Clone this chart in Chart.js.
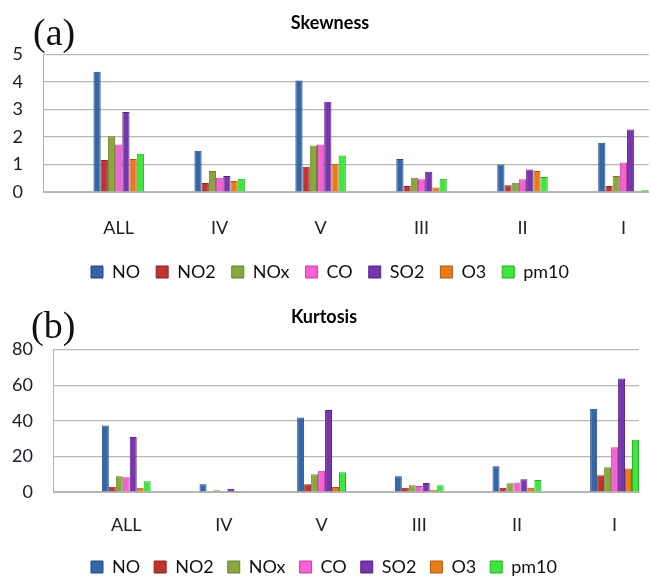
<!DOCTYPE html>
<html>
<head>
<meta charset="utf-8">
<script src="https://cdn.jsdelivr.net/npm/chart.js@4"></script>
<style>
html, body { margin: 0; padding: 0; background: #fff; overflow: hidden; }
body { width: 651px; height: 577px; position: relative; }
.box { position: absolute; left: 0; width: 651px; }
.tag { position: absolute; font-family: "Liberation Serif", "Times New Roman", serif; font-size: 38px; line-height: 1; color: #111; }
</style>
</head>
<body>
<div class="box" style="top:0;height:291px"><canvas id="skewChart"></canvas></div>
<div class="box" style="top:288px;height:298px"><canvas id="kurtChart"></canvas></div>
<div class="tag" style="left:33px;top:13px">(a)</div>
<div class="tag" style="left:31px;top:306px">(b)</div>
<script>
// zones, in the order they appear on the x axis
const categories = ['ALL', 'IV', 'V', 'III', 'II', 'I'];
const pollutants = ['NO', 'NO2', 'NOx', 'CO', 'SO2', 'O3', 'pm10'];

// skewness per pollutant
const skewNO   = [4.38, 1.50, 4.06, 1.20, 1.00, 1.79];
const skewNO2  = [1.16, 0.33, 0.92, 0.22, 0.25, 0.22];
const skewNOx  = [2.03, 0.76, 1.69, 0.52, 0.34, 0.58];
const skewCO   = [1.73, 0.52, 1.73, 0.46, 0.46, 1.07];
const skewSO2  = [2.91, 0.58, 3.28, 0.74, 0.82, 2.27];
const skewO3   = [1.20, 0.40, 1.03, 0.16, 0.76, 0.01];
const skewPM10 = [1.39, 0.48, 1.33, 0.48, 0.55, 0.06];

// kurtosis per pollutant
const kurtNO   = [37.3, 4.3, 41.8, 8.9, 14.5, 46.7];
const kurtNO2  = [3.0, 0.3, 4.3, 2.4, 2.4, 9.4];
const kurtNOx  = [8.9, 1.0, 10.0, 3.8, 4.9, 13.9];
const kurtCO   = [8.3, -0.4, 12.0, 3.4, 5.3, 25.2];
const kurtSO2  = [30.9, 1.8, 46.1, 5.1, 7.2, 63.8];
const kurtO3   = [2.4, 0.5, 2.8, 1.3, 2.4, 13.2];
const kurtPM10 = [6.0, -0.4, 11.1, 3.8, 6.8, 29.4];

const skewTicks = [0, 1, 2, 3, 4, 5];
const kurtTicks = [0, 20, 40, 60, 80];

const colors = ['#3466a8', '#bd3431', '#8aa63c', '#f861d4', '#7735ae', '#e97a1c', '#3be83b'];
const edges  = ['#234a80', '#8e2220', '#66802a', '#c43ea6', '#55227f', '#b0590f', '#22b022'];

const font = '"Lato", "Open Sans", sans-serif';

function makeChart(id, title, series, yTicks, o) {
  const datasets = series.map((vals, k) => ({
    label: pollutants[k],
    data: vals.map((v, i) => ({ x: i, y: v })),
    backgroundColor: colors[k],
    borderColor: edges[k],
    borderWidth: 1,
    categoryPercentage: 0.5,
    barPercentage: 1,
    clip: false
  }));

  new Chart(document.getElementById(id), {
    type: 'bar',
    data: { datasets: datasets },
    options: {
      responsive: true,
      maintainAspectRatio: false,
      animation: false,
      layout: { padding: { left: o.padLeft, right: o.right, top: 0, bottom: 0 } },
      plugins: {
        tooltip: { enabled: false },
        title: {
          display: true,
          text: title,
          color: '#000',
          font: { family: font, size: 18, weight: 'bold' },
          padding: { top: o.titleTop, bottom: o.titleBottom }
        },
        legend: {
          position: 'bottom',
          labels: {
            color: '#111',
            font: { family: font, size: 18 },
            boxWidth: 12,
            boxHeight: 12,
            padding: o.legendPad
          }
        }
      },
      scales: {
        x: {
          type: 'linear',
          offset: false,
          min: -0.75,
          max: 5.25,
          afterBuildTicks: s => { s.ticks = categories.map((c, i) => ({ value: i })); },
          afterFit: s => { s.height = o.axisH; },
          grid: { display: false, drawTicks: false },
          border: { display: true, color: '#b4b4b4' },
          ticks: {
            callback: v => categories[v],
            color: '#222',
            font: { family: font, size: 18 },
            padding: o.xPad,
            maxRotation: 0,
            autoSkip: false
          }
        },
        y: {
          min: yTicks[0],
          max: yTicks[yTicks.length - 1],
          afterBuildTicks: s => { s.ticks = yTicks.map(v => ({ value: v })); },
          afterFit: s => { s.width = o.left - o.padLeft; },
          grid: { color: '#b8b8b8', lineWidth: 1.2, drawTicks: false },
          border: { display: true, color: '#b4b4b4' },
          ticks: {
            color: '#1a1a2a',
            font: { family: font, size: 18 },
            padding: 20,
            autoSkip: false
          }
        }
      }
    }
  });
}

makeChart('skewChart', 'Skewness',
  [skewNO, skewNO2, skewNOx, skewCO, skewSO2, skewO3, skewPM10], skewTicks,
  { left: 43, padLeft: 10, right: 1, titleTop: 12, titleBottom: 21, xPad: 25, axisH: 55, legendPad: 16 });

makeChart('kurtChart', 'Kurtosis',
  [kurtNO, kurtNO2, kurtNOx, kurtCO, kurtSO2, kurtO3, kurtPM10], kurtTicks,
  { left: 53, padLeft: 9, right: 12, titleTop: 18, titleBottom: 22, xPad: 22, axisH: 52, legendPad: 14 });
</script>
</body>
</html>
